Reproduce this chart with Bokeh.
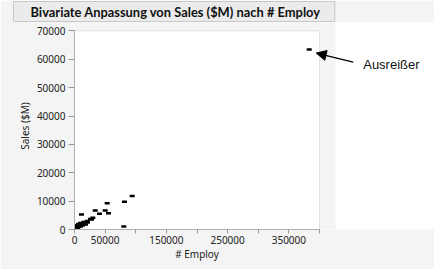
from bokeh.plotting import figure
from bokeh.models import (Range1d, FixedTicker, BoxAnnotation, Label, Arrow, NormalHead,
                          ColumnDataSource, Title, LinearAxis)
from bokeh.embed import file_html
from bokeh.resources import INLINE

# ---- data ----
employ = [383220, 94200, 81600, 53400, 80500, 33800, 50100, 55500, 40800, 11400,
          29900, 26100, 20700, 15200, 9800, 6500, 4900, 3300, 1600, 8200,
          13000, 18000, 3300, 6500, 9800, 21200, 27800, 2500, 5000, 12000]
sales = [63438, 11850, 9740, 9250, 1060, 6680, 6680, 5730, 5520, 5280,
         4110, 3700, 3000, 2640, 2290, 1930, 1410, 880, 700, 1580,
         1410, 1760, 1410, 880, 1060, 2460, 3520, 400, 500, 2000]
x_ticks = [0, 50000, 100000, 150000, 200000, 250000, 300000, 350000, 400000]
x_tick_labels = ["0", "50000", "", "150000", "", "250000", "", "350000", ""]
y_ticks = [0, 10000, 20000, 30000, 40000, 50000, 60000, 70000]
x_min, x_max = 0, 400000
y_min, y_max = 0, 70000
title_text = "Bivariate Anpassung von Sales ($M) nach # Employ"
x_label = "# Employ"
y_label = "Sales ($M)"
note_text = "Ausreißer"
outlier_x = employ[0]
outlier_y = sales[0]

# ---- layout constants (pixels) ----
W, H = 434, 269
BL, BB, BT = 74, 40, 21          # borders (left, bottom, top)
PLOT_R = 319                     # right edge of plot box
PLOT_T = 29.5                    # top edge of plot box
PANEL_R = 335                    # right edge of grey report panel
GRAY = "#f4f4f4"
FRAME_W = W - BL
FRAME_H = H - BB - BT
x_view_max = x_max * FRAME_W / (PLOT_R - BL)
y_view_max = y_max * FRAME_H / ((H - BB) - PLOT_T)

p = figure(width=W, height=H, output_backend="svg", toolbar_location=None,
           x_range=Range1d(x_min, x_view_max), y_range=Range1d(y_min, y_view_max),
           min_border_left=BL, min_border_right=0, min_border_top=BT,
           min_border_bottom=BB)
p.border_fill_color = GRAY
p.background_fill_color = "white"
p.outline_line_color = None
p.grid.visible = False

# grey report panel inside the frame (left part), white remains on the right
p.add_layout(BoxAnnotation(left=0, right=PANEL_R - BL, bottom=0, top=FRAME_H,
                           left_units="screen", right_units="screen",
                           top_units="screen", bottom_units="screen",
                           fill_color=GRAY, fill_alpha=1, line_color=None,
                           level="underlay"))
# plot box
p.add_layout(BoxAnnotation(left=x_min, right=x_max, bottom=y_min, top=y_max,
                           fill_color="white", fill_alpha=1, line_color="#b0b0b0",
                           line_width=1, level="underlay"))

# title bar (padding order here: left, right, top, bottom)
p.add_layout(Title(text=title_text, align="left", offset=13 - BL, standoff=0,
                   text_font="Lato", text_font_size="12.9px", text_font_style="bold",
                   text_color="#111111", vertical_align="middle",
                   background_fill_color="#ebebeb", border_line_color="#c8c8c8",
                   padding=(17, 14, 2, 2)), "above")

# data points
src = ColumnDataSource(dict(x=employ, y=sales))
p.rect("x", "y", width=5, height=2.5, width_units="screen", height_units="screen",
       source=src, fill_color="black", line_color=None)

def style_axis(ax):
    ax.axis_line_color = "#b0b0b0"
    ax.major_tick_line_color = "#999999"
    ax.minor_tick_line_color = None
    ax.major_tick_in = 0
    ax.major_label_text_font = "Noto Sans"
    ax.major_label_text_font_size = "10px"
    ax.major_label_text_color = "#222222"
    ax.axis_label_text_font = "Noto Sans"
    ax.axis_label_text_font_size = "10px"
    ax.axis_label_text_font_style = "normal"
    ax.axis_label_text_color = "#222222"

xa = p.xaxis[0]
style_axis(xa)
xa.bounds = (x_min, x_max)
xa.ticker = FixedTicker(ticks=x_ticks)
xa.major_label_overrides = {t: l for t, l in zip(x_ticks, x_tick_labels)}
xa.major_tick_out = 4
xa.major_label_standoff = 2

# x-axis title, centred under the plot box
xl = LinearAxis(ticker=FixedTicker(ticks=[(x_min + x_max) / 2]),
                major_label_overrides={(x_min + x_max) / 2: x_label})
style_axis(xl)
xl.axis_line_color = None
xl.major_tick_line_color = None
xl.major_tick_out = 0
xl.major_label_standoff = 0
p.add_layout(xl, "below")

ya = p.yaxis[0]
style_axis(ya)
ya.bounds = (y_min, y_max)
ya.ticker = FixedTicker(ticks=y_ticks)
ya.major_tick_out = 6
ya.major_label_standoff = 3
ya.axis_label = y_label
ya.axis_label_standoff = 2

# annotation arrow + text
PX_X = (x_max - x_min) / (PLOT_R - BL)
PX_Y = (y_max - y_min) / ((H - BB) - PLOT_T)
p.add_layout(Arrow(end=NormalHead(size=10, fill_color="black", line_color="black"),
                   x_start=outlier_x + 44 * PX_X, y_start=outlier_y - 12.5 * PX_Y,
                   x_end=outlier_x + 7 * PX_X, y_end=outlier_y - 3.5 * PX_Y,
                   line_color="black", line_width=1.3))
p.add_layout(Label(x=outlier_x + 54 * PX_X, y=outlier_y - 14.5 * PX_Y,
                   text=note_text, text_color="#111111", text_font_size="13px",
                   text_align="left", text_baseline="middle",
                   text_font="Liberation Sans"))

open("out.html", "w").write(file_html(p, INLINE))
